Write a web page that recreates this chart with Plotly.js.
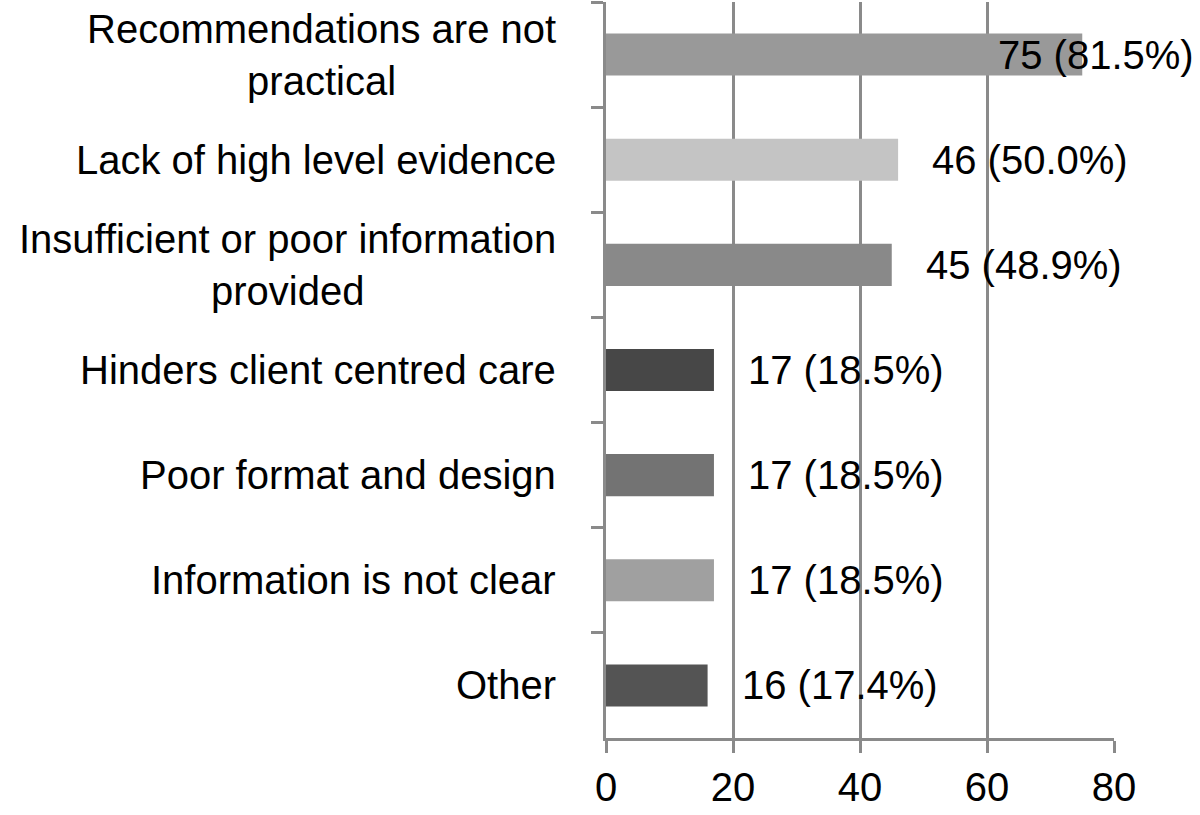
<!DOCTYPE html>
<html>
<head>
<meta charset="utf-8">
<script src="https://cdn.plot.ly/plotly-3.0.1.min.js"></script>
<style>html,body{margin:0;padding:0;background:#fff;}#chart{width:1200px;height:815px;}</style>
</head>
<body>
<div id="chart"></div>
<script>
const categories = [
  "Recommendations are not<br>practical",
  "Lack of high level evidence",
  "Insufficient or poor information<br>provided",
  "Hinders client centred care",
  "Poor format and design",
  "Information is not clear",
  "Other"
];
const counts = [75, 46, 45, 17, 17, 17, 16];
const percents = [81.5, 50.0, 48.9, 18.5, 18.5, 18.5, 17.4];
const barColors = ["#999999", "#c4c4c4", "#898989", "#474747", "#737373", "#a0a0a0", "#545454"];
const xTicks = [0, 20, 40, 60, 80];

const FONT = "Liberation Sans, Arial, Helvetica, sans-serif";
const FS = 40;
const xMax = 80;
const LINE = "#8a8a8a";
const LW = 3;

const trace = {
  type: "bar",
  orientation: "h",
  x: counts,
  y: categories,
  marker: {color: barColors, line: {width: 0}},
  hoverinfo: "skip",
  showlegend: false
};

const annotations = [];
categories.forEach((c, i) => {
  annotations.push({
    xref: "paper", yref: "y", x: 0, y: c,
    xanchor: "right", yanchor: "middle", xshift: -48,
    text: c, showarrow: false, align: "center",
    font: {family: FONT, size: FS, color: "#000"}
  });
  const label = counts[i] + " (" + percents[i].toFixed(1) + "%)";
  if (counts[i] / xMax > 0.9) {
    annotations.push({
      xref: "paper", yref: "y", x: 1, y: c,
      xanchor: "right", yanchor: "middle", xshift: 82,
      text: label, showarrow: false,
      font: {family: FONT, size: FS, color: "#000"}
    });
  } else {
    annotations.push({
      xref: "x", yref: "y", x: counts[i], y: c,
      xanchor: "left", yanchor: "middle", xshift: 32,
      text: label, showarrow: false,
      font: {family: FONT, size: FS, color: "#000"}
    });
  }
});

const layout = {
  width: 1200, height: 815,
  margin: {l: 606, r: 86, t: 2, b: 77, pad: 0},
  paper_bgcolor: "#fff", plot_bgcolor: "#fff",
  bargap: 0.6,
  font: {family: FONT, size: FS, color: "#000"},
  xaxis: {
    range: [0, xMax],
    tickvals: xTicks,
    ticktext: xTicks.map(String),
    showgrid: true, gridcolor: LINE, gridwidth: LW,
    zeroline: false,
    showline: true, linecolor: LINE, linewidth: LW,
    ticks: "outside", ticklen: 12, tickwidth: LW, tickcolor: LINE,
    tickfont: {family: FONT, size: FS, color: "#000"},
    fixedrange: true
  },
  yaxis: {
    type: "category",
    autorange: "reversed",
    showticklabels: false,
    showgrid: false, zeroline: false,
    showline: true, linecolor: LINE, linewidth: LW,
    ticks: "outside", tickson: "boundaries", ticklen: 12, tickwidth: LW, tickcolor: LINE,
    fixedrange: true
  },
  annotations: annotations
};

Plotly.newPlot("chart", [trace], layout, {displayModeBar: false, staticPlot: true});
</script>
</body>
</html>
